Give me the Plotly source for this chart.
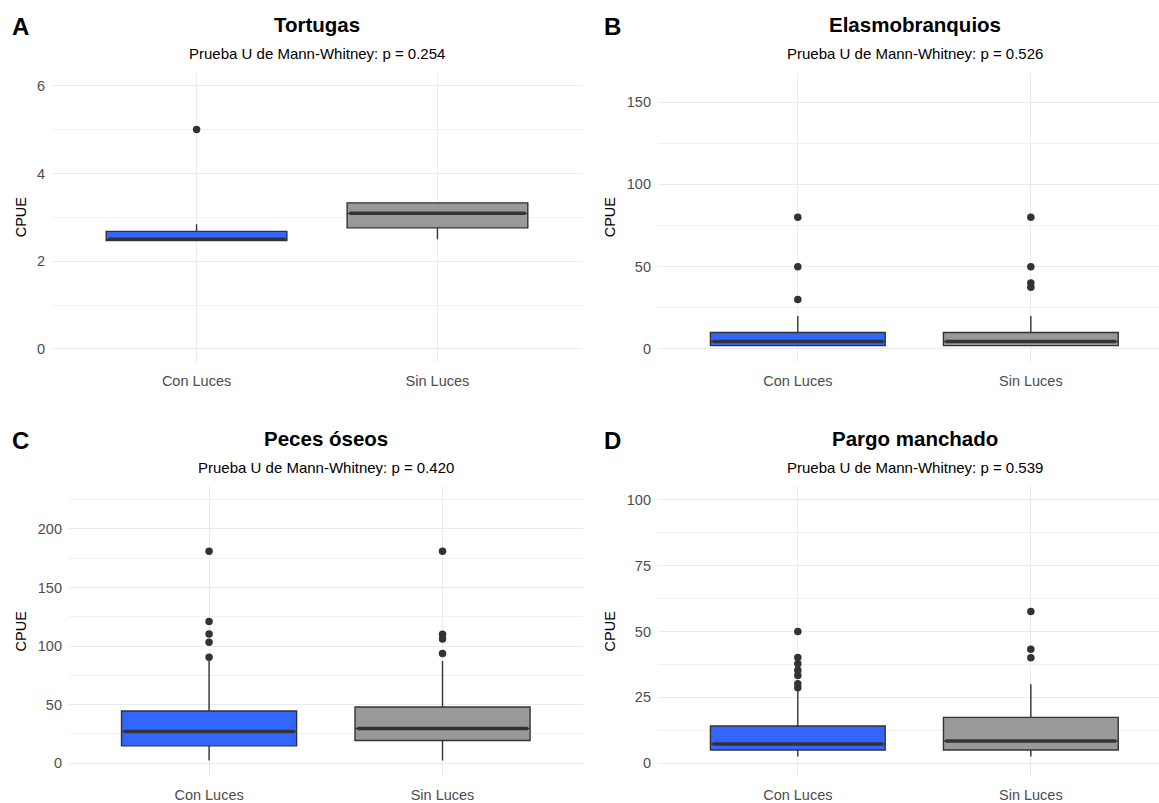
import plotly.graph_objects as go

W, H = 1159, 803

groups = ["Con Luces", "Sin Luces"]
panel_titles = ["Tortugas", "Elasmobranquios", "Peces óseos", "Pargo manchado"]
panel_letters = ["A", "B", "C", "D"]
p_values = ["0.254", "0.526", "0.420", "0.539"]
y_label = "CPUE"

# Tortugas
tort_q1 = [2.47, 2.76]
tort_med = [2.50, 3.09]
tort_q3 = [2.68, 3.33]
tort_lo = [2.47, 2.50]
tort_hi = [2.84, 3.33]
tort_out_con = [5.0]
tort_out_sin = []

# Elasmobranquios
elas_q1 = [2.0, 2.0]
elas_med = [4.5, 4.5]
elas_q3 = [10.0, 10.0]
elas_lo = [2.0, 2.0]
elas_hi = [20.0, 20.0]
elas_out_con = [30, 50, 80]
elas_out_sin = [37.5, 40, 50, 80]

# Peces óseos
pec_q1 = [14.8, 19.4]
pec_med = [27.0, 29.6]
pec_q3 = [44.6, 48.0]
pec_lo = [2.3, 2.3]
pec_hi = [88.0, 87.3]
pec_out_con = [90.5, 103.3, 110.4, 121, 181]
pec_out_sin = [93.6, 106.1, 110, 181]

# Pargo manchado
par_q1 = [5.0, 5.0]
par_med = [7.3, 8.4]
par_q3 = [14.1, 17.4]
par_lo = [2.5, 2.5]
par_hi = [27.5, 30.0]
par_out_con = [28.6, 30.1, 33.3, 35.3, 37.7, 40.1, 50]
par_out_sin = [40, 43.2, 57.6]

stats = [
    (tort_q1, tort_med, tort_q3, tort_lo, tort_hi, [tort_out_con, tort_out_sin]),
    (elas_q1, elas_med, elas_q3, elas_lo, elas_hi, [elas_out_con, elas_out_sin]),
    (pec_q1, pec_med, pec_q3, pec_lo, pec_hi, [pec_out_con, pec_out_sin]),
    (par_q1, par_med, par_q3, par_lo, par_hi, [par_out_con, par_out_sin]),
]

y_ranges = [[-0.3, 6.3], [-8, 168], [-11.25, 236.25], [-5, 105]]
y_dticks = [2, 50, 50, 25]

fills = ["#3366FF", "#999999"]
edge = "#333333"
FONT = "Liberation Sans, Arial, sans-serif"
BOX_W = 0.75

def px_x(p):
    return p / W

def px_y(p):
    return 1 - p / H

# panel pixel boxes: (left, right, top, bottom)
panel_px = [
    (52, 582, 72.7, 363),
    (658, 1159, 72.7, 363),
    (69, 582.6, 487.7, 778.3),
    (658, 1159, 487.7, 778.3),
]
x_ranges = [[0.4, 2.6], [0.4, 2.55], [0.4, 2.6], [0.4, 2.55]]

fig = go.Figure()
xpos = [i + 1 for i in range(len(groups))]

for k, (q1, med, q3, lo, hi, outs) in enumerate(stats):
    xa = "x" if k == 0 else f"x{k+1}"
    ya = "y" if k == 0 else f"y{k+1}"
    for g in range(len(groups)):
        fig.add_trace(go.Box(
            x=[xpos[g]], q1=[q1[g]], median=[med[g]], q3=[q3[g]],
            lowerfence=[lo[g]], upperfence=[hi[g]],
            width=BOX_W, fillcolor=fills[g],
            line=dict(color=edge, width=1.4),
            whiskerwidth=0, boxpoints=False, showlegend=False,
            xaxis=xa, yaxis=ya, hoverinfo="skip",
        ))
        # thick median
        fig.add_trace(go.Scatter(
            x=[xpos[g] - BOX_W / 2 + 0.01, xpos[g] + BOX_W / 2 - 0.01],
            y=[med[g], med[g]], mode="lines",
            line=dict(color=edge, width=3.5), showlegend=False,
            xaxis=xa, yaxis=ya, hoverinfo="skip",
        ))
        if outs[g]:
            fig.add_trace(go.Scatter(
                x=[xpos[g]] * len(outs[g]), y=outs[g], mode="markers",
                marker=dict(color=edge, size=7.5), showlegend=False,
                xaxis=xa, yaxis=ya, hoverinfo="skip",
            ))

layout = dict(
    width=W, height=H, margin=dict(l=0, r=0, t=0, b=0),
    paper_bgcolor="white", plot_bgcolor="white",
    font=dict(family=FONT, color="#4D4D4D", size=14.5),
)
annotations = []
for k in range(4):
    l, r, t, b = panel_px[k]
    sx = "" if k == 0 else str(k + 1)
    layout["xaxis" + sx] = dict(
        domain=[px_x(l), px_x(r)], range=x_ranges[k], anchor="y" + sx,
        tickmode="array", tickvals=xpos, ticktext=groups,
        showgrid=True, gridcolor="#EBEBEB", gridwidth=1.2,
        zeroline=False, showline=False, ticks="", ticklabelstandoff=8,
        tickfont=dict(size=14.5, color="#4D4D4D", family=FONT), fixedrange=True,
    )
    layout["yaxis" + sx] = dict(
        domain=[px_y(b), px_y(t)], range=y_ranges[k], anchor="x" + sx,
        tick0=0, dtick=y_dticks[k],
        showgrid=True, gridcolor="#EBEBEB", gridwidth=1.2,
        minor=dict(dtick=y_dticks[k] / 2, showgrid=True, gridcolor="#F1F1F1", gridwidth=1),
        zeroline=False, showline=False, ticks="", ticklabelstandoff=6,
        tickfont=dict(size=14.5, color="#4D4D4D", family=FONT), fixedrange=True,
    )
    center = (l + r) / 2 if k in (0, 2) else (658 + 1171) / 2
    row_top = 0 if k < 2 else 415
    annotations.append(dict(
        text="<b>" + panel_titles[k] + "</b>", x=px_x(center), y=px_y(row_top + 25),
        xref="paper", yref="paper", showarrow=False, xanchor="center", yanchor="middle",
        font=dict(size=20.5, color="black", family=FONT)))
    annotations.append(dict(
        text="Prueba U de Mann-Whitney: p = " + p_values[k], x=px_x(center),
        y=px_y(row_top + 54), xref="paper", yref="paper", showarrow=False,
        xanchor="center", yanchor="middle",
        font=dict(size=15, color="black", family=FONT)))
    letter_x = 20 if k in (0, 2) else 612
    annotations.append(dict(
        text="<b>" + panel_letters[k] + "</b>", x=px_x(letter_x), y=px_y(row_top + 27),
        xref="paper", yref="paper", showarrow=False, xanchor="center", yanchor="middle",
        font=dict(size=24, color="black", family=FONT)))
    ylab_x = 21 if k in (0, 2) else 610
    annotations.append(dict(
        text=y_label, x=px_x(ylab_x), y=px_y((t + b) / 2), textangle=-90,
        xref="paper", yref="paper", showarrow=False, xanchor="center", yanchor="middle",
        font=dict(size=14.5, color="black", family=FONT)))
layout["annotations"] = annotations
fig.update_layout(**layout)

fig.write_html("out.html", config={"displayModeBar": False},
               post_script="document.body.style.margin='0px';document.body.style.overflow='hidden';")
